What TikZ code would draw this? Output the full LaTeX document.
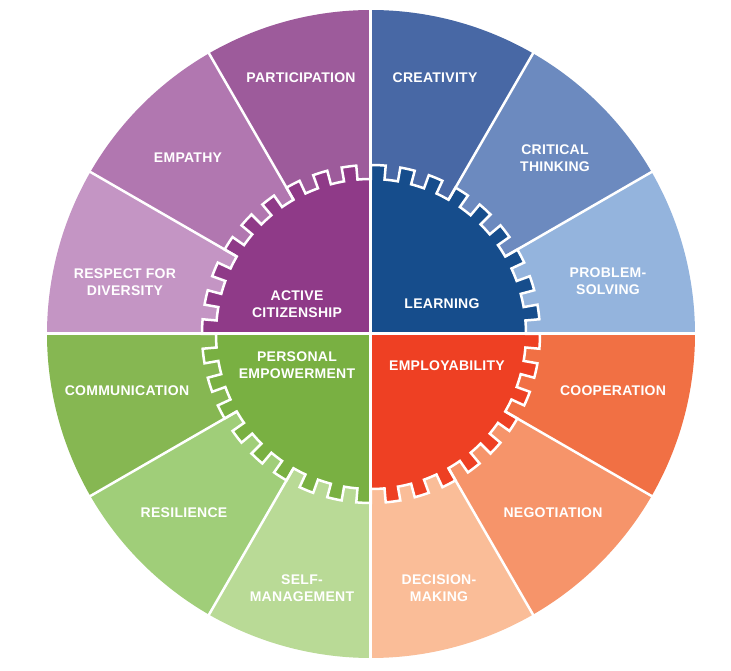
\documentclass[tikz,border=0pt]{standalone}
\usepackage{fontspec}
\setmainfont{Liberation Sans}
\newfontfamily\lblfont[LetterSpace=2.0]{Liberation Sans}
\definecolor{cPart}{RGB}{157,91,155}
\definecolor{cEmp}{RGB}{177,119,176}
\definecolor{cResp}{RGB}{196,149,196}
\definecolor{cCre}{RGB}{72,104,165}
\definecolor{cCrit}{RGB}{108,138,191}
\definecolor{cProb}{RGB}{148,180,221}
\definecolor{cCoop}{RGB}{241,112,68}
\definecolor{cNeg}{RGB}{246,148,106}
\definecolor{cDec}{RGB}{250,189,152}
\definecolor{cComm}{RGB}{134,183,82}
\definecolor{cRes}{RGB}{160,206,121}
\definecolor{cSelf}{RGB}{185,218,150}
\definecolor{qPurple}{RGB}{143,58,136}
\definecolor{qBlue}{RGB}{22,77,140}
\definecolor{qGreen}{RGB}{121,176,66}
\definecolor{qRed}{RGB}{238,64,35}
\newcommand{\rr}{155}
\newcommand{\rt}{169}
\newcommand{\RR}{324}
\newcommand{\gearpath}{(0:\rr) \foreach \k [evaluate=\k as \ka using 10*\k, evaluate=\k as \kb using 10*\k+5, evaluate=\k as \kc using 10*\k+10] in {0,...,35}{ arc[start angle=\ka, end angle=\kb, radius=\rr] -- (\kb:\rt) arc[start angle=\kb, end angle=\kc, radius=\rt] -- (\kc:\rr) } -- cycle}
\tikzset{
  lbl/.style={text=white, font=\lblfont\fontsize{14}{17}\selectfont\bfseries, align=center, text height=9.6pt, text depth=0pt, inner sep=0pt},
  divline/.style={white, line width=2.5pt},
  crossline/.style={white, line width=3pt}
}
\begin{document}
\begin{tikzpicture}[x=1pt,y=1pt]
\useasboundingbox (-371,-337) rectangle (360,334);
\fill[white] (-371,-337) rectangle (360,334);
% outer sectors
\foreach \a/\c in {0/cProb,30/cCrit,60/cCre,90/cPart,120/cEmp,150/cResp,180/cComm,210/cRes,240/cSelf,270/cDec,300/cNeg,330/cCoop}{
  \fill[\c] (0,0) -- (\a:\RR) arc[start angle=\a, delta angle=30, radius=\RR] -- cycle;
}
% gear quadrants
\foreach \qx/\qy/\c in {1/1/qBlue,-1/1/qPurple,-1/-1/qGreen,1/-1/qRed}{
  \begin{scope}
    \clip (0,0) rectangle (\qx*200,\qy*200);
    \fill[\c] \gearpath;
  \end{scope}
}
\draw[white, line width=2.5pt, line join=miter] \gearpath;
% dividers
\foreach \a in {30,60,120,150,210,240,300,330}{
  \draw[divline] (\a:\rr) -- (\a:\RR+3);
}
\draw[crossline] (-\RR-3,0) -- (\RR+3,0);
\draw[crossline] (0,-\RR-3) -- (0,\RR+3);
% labels (two-line labels are placed by their second line)
\node[lbl] (part) at (-70,256) {PARTICIPATION};
\node[lbl] (emp) at (-183,176) {EMPATHY};
\node[lbl] (resp) at (-246,43.5) {RESPECT FOR\\DIVERSITY};
\node[lbl] (act) at (-74,21) {ACTIVE\\CITIZENSHIP};
\node[lbl] (cre) at (64,256) {CREATIVITY};
\node[lbl] (crit) at (184,167) {CRITICAL\\THINKING};
\node[lbl] (prob) at (237,44) {PROBLEM-\\SOLVING};
\node[lbl] (learn) at (71,30) {LEARNING};
\node[lbl] (pers) at (-74,-39.5) {PERSONAL\\EMPOWERMENT};
\node[lbl] (empl) at (76,-32) {EMPLOYABILITY};
\node[lbl] (comm) at (-244,-57) {COMMUNICATION};
\node[lbl] (coop) at (242,-57) {COOPERATION};
\node[lbl] (resil) at (-187,-179) {RESILIENCE};
\node[lbl] (neg) at (182,-179) {NEGOTIATION};
\node[lbl] (self) at (-69,-263) {SELF-\\MANAGEMENT};
\node[lbl] (dec) at (68,-263) {DECISION-\\MAKING};
\end{tikzpicture}
\end{document}
